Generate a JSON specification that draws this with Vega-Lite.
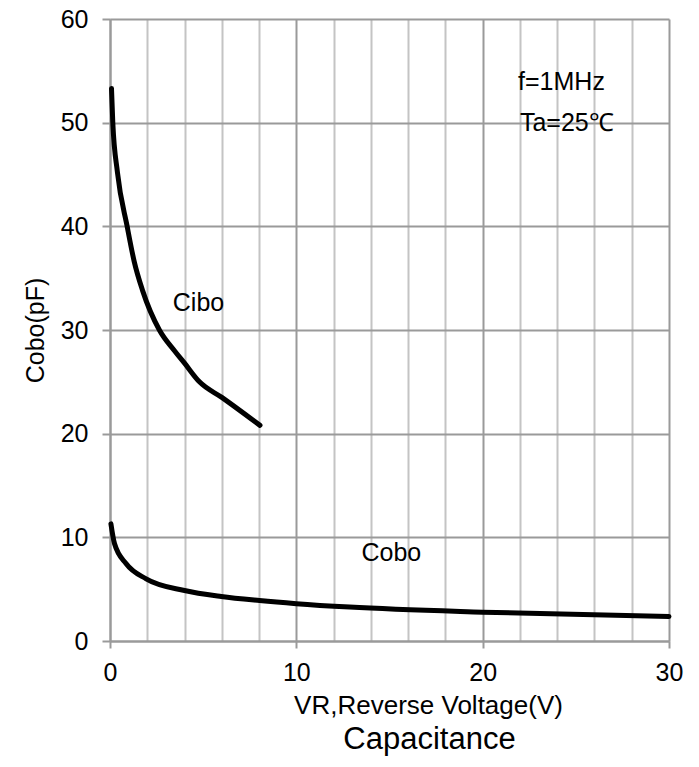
{
  "$schema": "https://vega.github.io/schema/vega-lite/v6.json",
  "autosize": {"type": "none"},
  "width": 559,
  "height": 622,
  "padding": {"left": 110, "top": 19, "right": 30, "bottom": 126},
  "background": "white",
  "config": {
    "font": "Liberation Sans",
    "view": {"stroke": null}
  },
  "title": {
    "text": "Capacitance",
    "orient": "bottom",
    "anchor": "middle",
    "font": "Liberation Sans",
    "fontSize": 31,
    "fontWeight": "normal",
    "color": "#000",
    "offset": 7,
    "dx": 40
  },
  "datasets": {
    "curves": [
      {"series": "Cibo", "v": 0.08, "c": 53.3},
      {"series": "Cibo", "v": 0.15, "c": 50.0},
      {"series": "Cibo", "v": 0.4, "c": 45.2},
      {"series": "Cibo", "v": 0.92, "c": 40.0},
      {"series": "Cibo", "v": 1.3, "c": 36.6},
      {"series": "Cibo", "v": 1.75, "c": 33.8},
      {"series": "Cibo", "v": 2.65, "c": 30.0},
      {"series": "Cibo", "v": 3.46, "c": 28.0},
      {"series": "Cibo", "v": 4.0, "c": 26.8},
      {"series": "Cibo", "v": 4.8, "c": 25.0},
      {"series": "Cibo", "v": 6.0, "c": 23.5},
      {"series": "Cibo", "v": 8.05, "c": 20.8},
      {"series": "Cobo", "v": 0.05, "c": 11.3},
      {"series": "Cobo", "v": 0.24, "c": 9.4},
      {"series": "Cobo", "v": 0.87, "c": 7.45},
      {"series": "Cobo", "v": 1.94, "c": 6.0},
      {"series": "Cobo", "v": 4.0, "c": 4.87},
      {"series": "Cobo", "v": 5.97, "c": 4.29},
      {"series": "Cobo", "v": 8.02, "c": 3.9},
      {"series": "Cobo", "v": 10.0, "c": 3.6},
      {"series": "Cobo", "v": 12.86, "c": 3.27},
      {"series": "Cobo", "v": 20.0, "c": 2.78},
      {"series": "Cobo", "v": 30.0, "c": 2.36}
    ],
    "curveLabels": [
      {"v": 4.75, "c": 32.6, "label": "Cibo"},
      {"v": 15.1, "c": 8.5, "label": "Cobo"}
    ],
    "conditions": [
      {"v": 21.9, "c": 53.9, "label": "f=1MHz"},
      {"v": 22.0, "c": 50.0, "label": "Ta=25℃"}
    ]
  },
  "layer": [
    {
      "data": {"name": "curves"},
      "mark": {"type": "line", "color": "#000", "strokeWidth": 5, "interpolate": "monotone", "strokeCap": "round"},
      "encoding": {
        "x": {
          "field": "v", "type": "quantitative",
          "scale": {"domain": [0, 30], "nice": false},
          "axis": {
            "title": "VR,Reverse Voltage(V)",
            "titleFont": "Liberation Sans",
            "titleFontSize": 26,
            "titleFontWeight": "normal",
            "titleColor": "#000",
            "titleX": 318,
            "titlePadding": 7,
            "values": [0, 2, 4, 6, 8, 10, 12, 14, 16, 18, 20, 22, 24, 26, 28, 30],
            "tickCount": 40,
            "labelOverlap": false,
            "labelFlush": false,
            "labelExpr": "datum.value % 10 === 0 ? datum.label : ''",
            "labelFont": "Liberation Sans",
            "labelFontSize": 25,
            "labelColor": "#000",
            "labelPadding": 12,
            "grid": true,
            "gridColor": {"condition": {"test": "datum.value % 10 === 0", "value": "#9a9a9a"}, "value": "#c4c4c4"},
            "gridWidth": 2,
            "domain": true,
            "domainColor": "#9a9a9a",
            "domainWidth": 2,
            "ticks": true,
            "tickColor": "#9a9a9a",
            "tickWidth": 2,
            "tickSize": 7,
            "tickOpacity": {"condition": {"test": "datum.value % 10 === 0", "value": 1}, "value": 0}
          }
        },
        "y": {
          "field": "c", "type": "quantitative",
          "scale": {"domain": [0, 60], "nice": false},
          "axis": {
            "title": "Cobo(pF)",
            "titleFont": "Liberation Sans",
            "titleFontSize": 25,
            "titleFontWeight": "normal",
            "titleColor": "#000",
            "titlePadding": 12,
            "values": [0, 10, 20, 30, 40, 50, 60],
            "tickCount": 10,
            "labelOverlap": false,
            "labelFlush": false,
            "labelFont": "Liberation Sans",
            "labelFontSize": 25,
            "labelColor": "#000",
            "labelPadding": 14,
            "grid": true,
            "gridColor": "#9a9a9a",
            "gridWidth": 2,
            "domain": true,
            "domainColor": "#9a9a9a",
            "domainWidth": 2,
            "tickColor": "#9a9a9a",
            "tickWidth": 2,
            "tickSize": 8
          }
        },
        "detail": {"field": "series"}
      }
    },
    {
      "data": {"name": "curveLabels"},
      "mark": {"type": "text", "font": "Liberation Sans", "fontSize": 25, "color": "#000", "baseline": "middle", "align": "center"},
      "encoding": {
        "x": {"field": "v", "type": "quantitative"},
        "y": {"field": "c", "type": "quantitative"},
        "text": {"field": "label"}
      }
    },
    {
      "data": {"name": "conditions"},
      "mark": {"type": "text", "font": "Liberation Sans", "fontSize": 25, "color": "#000", "baseline": "middle", "align": "left"},
      "encoding": {
        "x": {"field": "v", "type": "quantitative"},
        "y": {"field": "c", "type": "quantitative"},
        "text": {"field": "label"}
      }
    }
  ]
}
